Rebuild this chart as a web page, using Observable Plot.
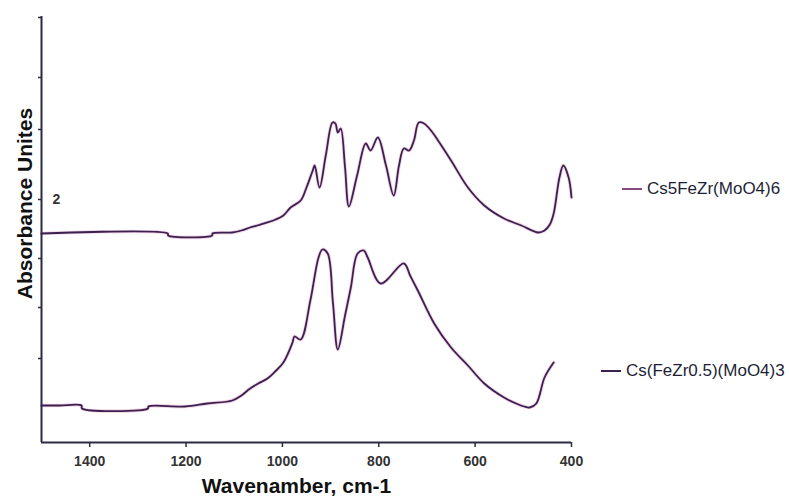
<!DOCTYPE html>
<html><head><meta charset="utf-8">
<script src="https://cdn.jsdelivr.net/npm/d3@7"></script>
<script src="https://cdn.jsdelivr.net/npm/@observablehq/plot@0.6"></script>
<style>
body{margin:0;background:#fff;}
#wrap{position:relative;width:789px;height:501px;font-family:"Liberation Sans",Arial,sans-serif;}
.leg{position:absolute;display:flex;align-items:center;font-size:17px;color:#1e1f36;white-space:nowrap;line-height:1;}
.leg .sw{display:inline-block;width:20px;height:2px;margin-right:5px;}
g[aria-label="x-axis tick label"] text{font-weight:bold;}
</style></head><body><div id="wrap"></div>
<script>
const seriesNames = ["Cs5FeZr(MoO4)6", "Cs(FeZr0.5)(MoO4)3"];
const legendSwatch = ["#8a4a7e", "#3a2150"];

// Upper spectrum: wavenumber (cm-1) and absorbance
const wnTop  = [1500,1238,1237,1146,1145,1104,1085,1067,1052,1035,1019,998,983,962,950,937,933,923,910,896,890,885,879,870,862,845,827,817,802,785,769,758,748,737,727,717,706,690,677,650,615,581,540,504,469,456,445,437,425,417,406,400];
const absTop = [1.83,1.83,1.82,1.82,1.83,1.835,1.845,1.86,1.87,1.883,1.895,1.92,1.96,1.995,2.06,2.145,2.17,2.06,2.22,2.385,2.38,2.335,2.355,2.16,1.965,2.12,2.28,2.245,2.31,2.17,2.02,2.17,2.255,2.245,2.295,2.385,2.38,2.34,2.295,2.195,2.06,1.97,1.905,1.87,1.835,1.845,1.875,1.93,2.11,2.17,2.11,2.01];

// Lower spectrum
const wnBottom  = [1500,1462,1417,1416,1279,1278,1202,1156,1104,1085,1067,1050,1031,1015,998,979,975,962,942,925,917,906,895,885,870,858,844,831,823,796,748,735,719,685,650,615,581,540,510,498,487,473,456,437];
const absBottom = [0.97,0.97,0.97,0.955,0.955,0.965,0.965,0.98,0.995,1.02,1.055,1.08,1.105,1.14,1.185,1.285,1.315,1.30,1.495,1.71,1.75,1.73,1.48,1.25,1.42,1.56,1.73,1.745,1.71,1.58,1.68,1.62,1.545,1.38,1.26,1.17,1.08,1.01,0.975,0.965,0.96,0.98,1.11,1.185];

const xTicks = [1400,1200,1000,800,600,400];
const yTicks = [1.205,1.46,1.705,2,2.35,2.61,2.91];
const yLabeled = [2];
const xDomain = [1500,400];
const yDomain = [0.785,2.915];
const xTitle = "Wavenamber, cm-1";
const yTitle = "Absorbance Unites";

const rows = [
  ...wnTop.map((w,i)=>({series:seriesNames[0], w, a:absTop[i]})),
  ...wnBottom.map((w,i)=>({series:seriesNames[1], w, a:absBottom[i]}))
];

const axisColor = "#2b2b45";
const plot = Plot.plot({
  width:789, height:501,
  marginLeft:41, marginRight:218, marginTop:16, marginBottom:59,
  style:{fontFamily:"'Liberation Sans', Arial, sans-serif", background:"white", overflow:"visible"},
  x:{domain:xDomain},
  y:{domain:yDomain},
  marks:[
    Plot.line(rows,{x:"w",y:"a",z:"series",stroke:"#e7a9cc",strokeWidth:3.6,strokeOpacity:0.5,curve:"catmull-rom"}),
    Plot.line(rows,{x:"w",y:"a",z:"series",stroke:"#3a2150",strokeWidth:1.8,curve:"catmull-rom"}),
    Plot.ruleX([xDomain[0]],{stroke:axisColor,strokeWidth:2}),
    Plot.ruleY([yDomain[0]],{stroke:axisColor,strokeWidth:2}),
    Plot.axisX({ticks:xTicks, tickFormat:d=>String(d), tickSize:5, tickPadding:9, fontSize:14, fontWeight:"bold", fill:"#333", stroke:axisColor, strokeWidth:1.5, label:null}),
    Plot.axisY({ticks:yTicks, tickSize:3, tickFormat:()=>"", stroke:axisColor, strokeWidth:1.5, label:null}),
    Plot.text(yLabeled,{x:()=>xDomain[0], y:d=>d, text:d=>String(d), dx:11, textAnchor:"start", fontWeight:"bold", fontSize:14, fill:"#333"}),
    Plot.text([xTitle],{frameAnchor:"bottom", textAnchor:"middle", dy:50, dx:-10, fontSize:21, fontWeight:"bold", fill:"#111"}),
    Plot.text([yTitle],{frameAnchor:"left", textAnchor:"middle", rotate:-90, dx:-16, dy:-26, fontSize:21, fontWeight:"bold", fill:"#111"})
  ]
});
const wrap = document.getElementById("wrap");
wrap.appendChild(plot);

// Legend placed beside each spectrum
const legPos = [{left:622, top:189},{left:601, top:371}];
seriesNames.forEach((name,i)=>{
  const d = document.createElement("div");
  d.className = "leg";
  d.style.left = legPos[i].left + "px";
  d.style.top = (legPos[i].top - 9) + "px";
  d.innerHTML = `<span class="sw" style="background:${legendSwatch[i]}"></span><span>${name}</span>`;
  wrap.appendChild(d);
});
</script>
</body></html>
